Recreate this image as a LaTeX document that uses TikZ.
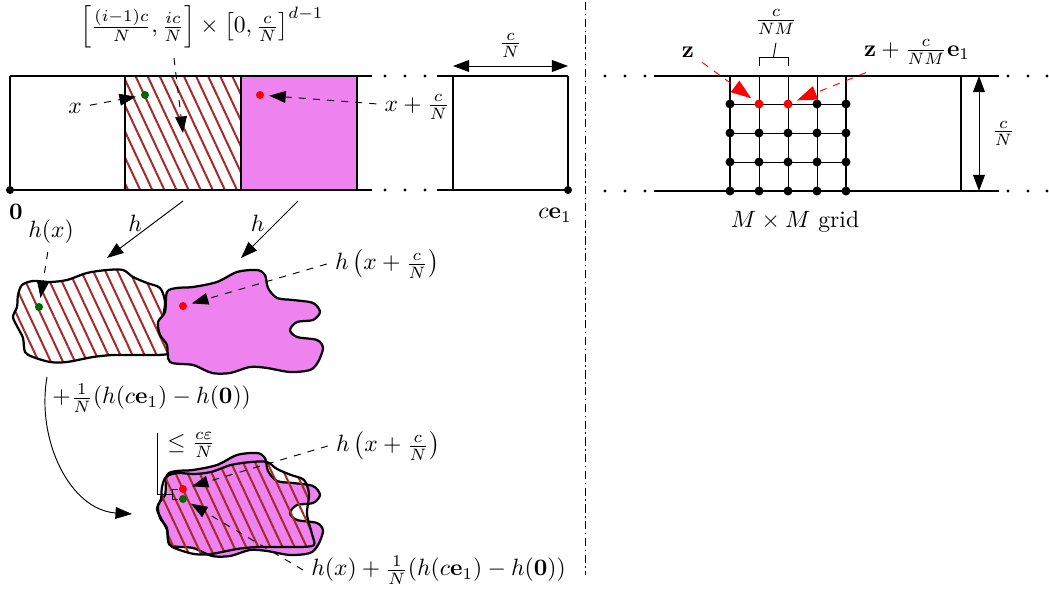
\documentclass[tikz,border=0pt]{standalone}
\usepackage{amsmath,amssymb}
\usetikzlibrary{arrows.meta,patterns.meta,positioning,calc}
\definecolor{blobviolet}{RGB}{238,130,238}
\definecolor{hatchbrown}{RGB}{165,42,42}
\definecolor{dotgreen}{RGB}{0,100,0}

% outlines of the two images under h
\newcommand{\hatchblob}[1]{%
  \draw[#1] plot[smooth cycle] coordinates {(22,285) (33,281) (50,282) (67,280) (87,273)
    (107,270) (123,270) (133,277) (147,283) (160,288) (165,302) (163,322) (168,342)
    (170,353) (157,355) (133,355) (113,355) (93,357) (67,362) (50,362) (33,357)
    (25,352) (23,338) (18,328) (13,317) (17,307) (18,295)};}
\newcommand{\violetblob}[1]{%
  \draw[#1] plot[smooth cycle] coordinates {(167,292) (177,288) (193,287) (217,282)
    (237,272) (257,270) (265,275) (268,288) (277,298) (293,300) (313,303) (320,312)
    (313,320) (297,322) (290,330) (297,337) (317,340) (323,348) (318,362) (310,370)
    (290,372) (267,368) (250,367) (230,373) (212,373) (193,365) (170,362) (167,345)
    (160,335) (158,322) (165,312)};}

\begin{document}
\begin{tikzpicture}[x=0.424pt, y=-0.424pt,
  boxline/.style={line width=0.85pt},
  blobline/.style={line width=0.95pt},
  hatchfill/.style={pattern={Lines[angle=-65,distance=4.65pt,line width=0.85pt]}, pattern color=hatchbrown},
  bigtip/.style={arrows={-Triangle[length=7pt,width=5pt]}},
  bothtips/.style={arrows={Triangle[length=6.8pt,width=5pt]-Triangle[length=6.8pt,width=5pt]}},
  pointer/.style={bigtip, dashed, shorten >=2pt},
  redpointer/.style={arrows={-Triangle[length=8.5pt,width=6pt]}, dashed, red, shorten >=2pt},
  ptdot/.style={circle, fill, inner sep=0pt, minimum size=3.4pt},
  griddot/.style={circle, fill, inner sep=0pt, minimum size=3.8pt},
  ellipsisdot/.style={circle, fill, inner sep=0pt, minimum size=1.4pt}]

\useasboundingbox (0,0) rectangle (1049,590);

% Strip of cells
\path[hatchfill] (125,76) rectangle (241,190);
\fill[blobviolet] (241,76) rectangle (357,190);
\draw[boxline] (10,76) -- (372,76) (10,190) -- (372,190)
  (437,76) -- (568,76) (437,190) -- (568,190);
\foreach \x in {10,125,241,357,453,568}
  \draw[boxline] (\x,76) -- (\x,190);
\foreach \x in {385,405,425} {
  \node[ellipsisdot] at (\x,76) {};
  \node[ellipsisdot] at (\x,190) {};
}
\node[ptdot] (orig) at (10,190) {};
\node[ptdot] (cend) at (568,190) {};
\node (origlbl) at (16,212) {$\mathbf{0}$};
\node (cendlbl) at (555,215) {$c\mathbf{e}_1$};

\coordinate (wleft) at (453,66);
\coordinate (wright) at (568,66);
\draw[bothtips] (wleft) -- node[above] {$\frac{c}{N}$} (wright);

% the cell and the two points
\node[inner sep=1pt] (celllbl) at (202,27) {$\left[\frac{(i-1)c}{N},\frac{ic}{N}\right]\times\left[0,\frac{c}{N}\right]^{d-1}$};
\coordinate (cellfrom) at (174,58);
\coordinate (cellto) at (183,133);
\draw[pointer, shorten >=0pt] (cellfrom) -- (cellto);

\node[ptdot, dotgreen] (xpt) at (145,95) {};
\node[ptdot, red] (xcpt) at (260,95) {};
\node (xlbl) at (75,108) {$x$};
\node (xclbl) at (417,107) {$x+\frac{c}{N}$};
\draw[pointer] (xlbl) -- (xpt);
\draw[pointer] (xclbl) -- (xcpt);

% the map h
\coordinate (hfromA) at (183,201);
\coordinate (htoA) at (107,258);
\coordinate (hfromB) at (298,201);
\coordinate (htoB) at (241,258);
\draw[bigtip] (hfromA) -- node[pos=0.4, left=1pt] {$h$} (htoA);
\draw[bigtip] (hfromB) -- node[pos=0.4, left=1pt] {$h$} (htoB);

\hatchblob{blobline, hatchfill}
\violetblob{blobline, fill=blobviolet}

\node[ptdot, dotgreen] (hxpt) at (39,307) {};
\node[ptdot, red] (hxcpt) at (183,306) {};
\node (hxlbl) at (51,232) {$h(x)$};
\node (hxclbl) at (387,264) {$h\left(x+\frac{c}{N}\right)$};
\draw[pointer] (hxlbl) -- (hxpt);
\draw[pointer] (hxclbl.west) -- (hxcpt);

% shift by (h(ce1)-h(0))/N
\coordinate (shiftfrom) at (47,377);
\coordinate (shiftto) at (132,514);
\draw[bigtip] (shiftfrom) .. controls (36,440) and (70,510) .. (shiftto);
\node[anchor=west] (shiftlbl) at (44,398) {$+\frac{1}{N}(h(c\mathbf{e}_1)-h(\mathbf{0}))$};

\begin{scope}[shift={(0,183)}]
  \violetblob{blobline, fill=blobviolet}
\end{scope}
\begin{scope}[shift={(144,192)}]
  \hatchblob{blobline, hatchfill}
\end{scope}
\node[ptdot, red] (bxcpt) at (183,489) {};
\node[ptdot, dotgreen] (bxpt) at (183,499) {};

\draw ($(bxcpt)+(-5,0)$) -- ($(bxcpt)+(-11,0)$) -- ($(bxpt)+(-11,0)$) -- ($(bxpt)+(-5,0)$);
\draw ($(bxcpt)!0.5!(bxpt)+(-11,0)$) -- ++(-15,0) -- ++(0,-61);
\node[anchor=west] (epslbl) at (159,445) {$\leq\frac{c\varepsilon}{N}$};

\node (bhxclbl) at (388,446) {$h\left(x+\frac{c}{N}\right)$};
\node[anchor=west] (bhxlbl) at (303,570) {$h(x)+\frac{1}{N}(h(c\mathbf{e}_1)-h(\mathbf{0}))$};
\draw[pointer] (bhxclbl.west) -- (bxcpt);
\draw[pointer] (bhxlbl.west) -- (bxpt);

% divider
\draw[dash pattern=on 3.5pt off 1.5pt on 0.6pt off 1.5pt] (585,2) -- (585,575);

% Right panel: grid inside one cell
\draw[boxline] (654,76) -- (999,76) (654,191) -- (999,191);
\foreach \x in {605,625,645,1008,1028,1047} {
  \node[ellipsisdot] at (\x,76) {};
  \node[ellipsisdot] at (\x,191) {};
}
\foreach \i in {1,2,3}
  \draw (730+29*\i,76) -- (730+29*\i,191);
\foreach \y in {104,133,162}
  \draw (730,\y) -- (846,\y);
\draw[boxline] (730,76) -- (730,191) (846,76) -- (846,191) (961,76) -- (961,191);
\foreach \i in {0,...,4}
  \foreach \j in {1,2,3}
    \node[griddot] (g\i\j) at (730+29*\i,104+29*\j) {};
\foreach \i in {0,3,4}
  \node[griddot] (g\i0) at (730+29*\i,104) {};
\node[griddot, red] (zpt) at (759,104) {};
\node[griddot, red] (zept) at (788,104) {};

\draw (759,66) -- (759,57) -- (788,57) -- (788,66);
\coordinate (stepbrace) at (773.5,57);
\node (steplbl) at (776,22) {$\frac{c}{NM}$};
\draw (stepbrace) -- (steplbl.south);

\node (zlbl) at (688,52) {$\mathbf{z}$};
\node (zelbl) at (917,52) {$\mathbf{z}+\frac{c}{NM}\mathbf{e}_1$};
\draw[redpointer] (zlbl) -- (zpt);
\draw[redpointer] (zelbl) -- (zept);

\coordinate (htop) at (979,76);
\coordinate (hbot) at (979,191);
\draw[bothtips] (htop) -- node[right=2pt] {$\frac{c}{N}$} (hbot);

\node (gridlbl) at (795,222) {$M\times M$ grid};

\end{tikzpicture}
\end{document}
